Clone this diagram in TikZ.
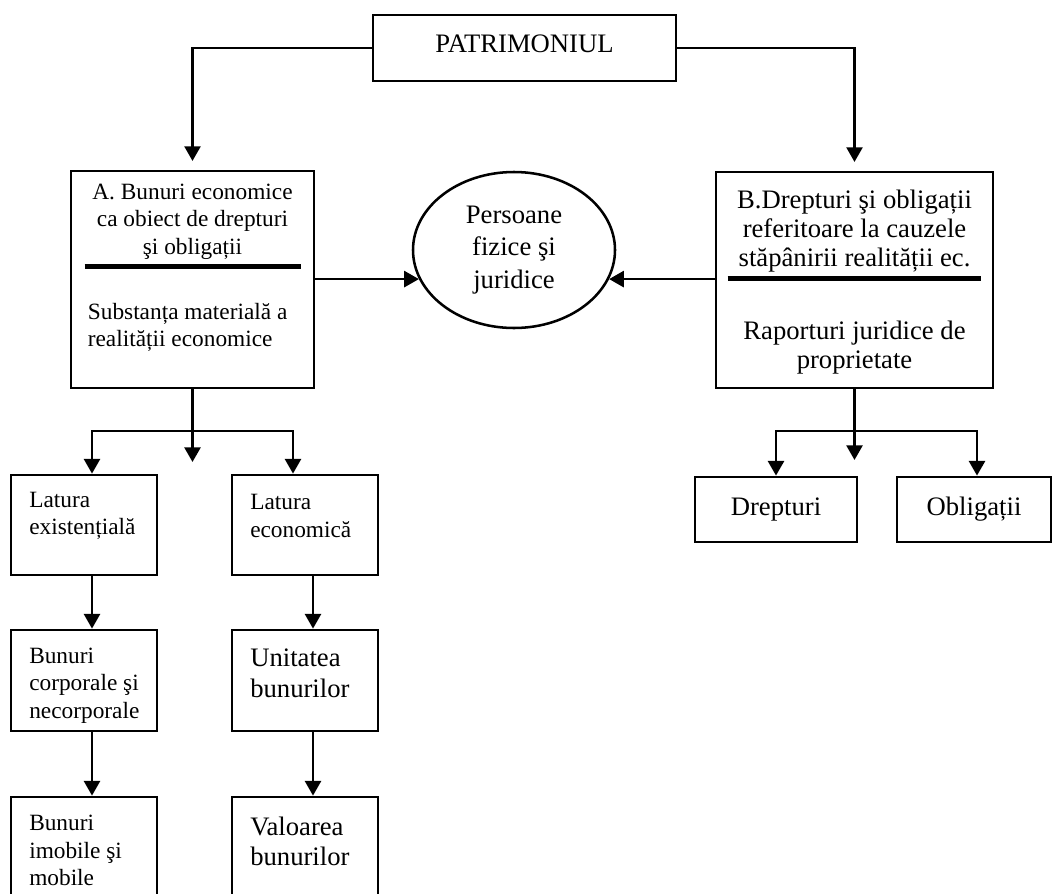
\documentclass[tikz,border=0pt]{standalone}
\usepackage{fontspec}
\setmainfont{Liberation Serif}
\usetikzlibrary{arrows.meta,shapes.geometric,calc}
\begin{document}
\begin{tikzpicture}[x=0.75pt,y=-0.75pt,
  box/.style={draw, line width=2.1pt, rectangle, inner sep=0pt},
  conn/.style={line width=1.9pt},
  arr/.style={conn, -{Triangle[width=12pt,length=11pt]}},
  big/.style={font=\fontsize{20}{23}\selectfont},
  small/.style={font=\fontsize{17.5}{20.6}\selectfont},
  txt/.style={inner sep=0pt},
  rulebar/.style={line width=3.2pt}]
\useasboundingbox (0,0) rectangle (1053,893);
\fill[white] (0,0) rectangle (1053,893);

% boxes
\node[box, big, minimum width=227.25pt, minimum height=49.5pt, text depth=7pt] (T) at (524.5,48) {PATRIMONIUL};
\node[box, minimum width=182.25pt, minimum height=162.75pt] (A) at (192.5,279.5) {};
\node[box, minimum width=207.75pt, minimum height=162pt] (B) at (854.5,280) {};
\node[draw, line width=1.9pt, ellipse, inner sep=0pt, minimum width=151.5pt, minimum height=117pt, align=center,
      font=\fontsize{20}{24.4}\selectfont] (P) at (514,250) {Persoane\\fizice şi\\juridice};
\node[box, minimum width=109.5pt, minimum height=75pt] (LE) at (84,525) {};
\node[box, minimum width=109.5pt, minimum height=75pt] (LC) at (305,525) {};
\node[box, minimum width=109.5pt, minimum height=75.75pt] (BC) at (84,680.5) {};
\node[box, minimum width=109.5pt, minimum height=75.75pt] (UB) at (305,680.5) {};
\node[box, minimum width=109.5pt, minimum height=77.25pt] (BI) at (84,848.5) {};
\node[box, minimum width=109.5pt, minimum height=77.25pt] (VB) at (305,848.5) {};
\node[box, big, minimum width=121.5pt, minimum height=48.75pt] (D) at (776,509.5) {Drepturi};
\node[box, big, minimum width=115.5pt, minimum height=48.75pt] (O) at (974,509.5) {Obligații};

% texts inside A
\node[txt, small, align=center] (At) at ($(A.north)+(0,52)$) {A. Bunuri economice\\ca obiect de drepturi\\şi obligații};
\draw[rulebar] ($(A.north west)+(15,97)$) -- ($(A.north east)+(-14,97)$);
\node[txt, small, align=left, anchor=west] (Ab) at ($(A.west)+(18,48)$) {Substanța materială a\\realității economice};

% texts inside B
\node[txt, align=center, font=\fontsize{20}{21.75}\selectfont] (Bt) at (854.5,231) {B.Drepturi şi obligații\\referitoare la cauzele\\stăpânirii realității ec.};
\draw[rulebar] ($(B.north west)+(13,108)$) -- ($(B.north east)+(-13,108)$);
\node[txt, align=center, font=\fontsize{20}{21.75}\selectfont] (Bb) at (854.5,347.5) {Raporturi juridice de\\proprietate};

% lower texts
\node[txt, small, align=left, anchor=west] (LEt) at (29,516) {Latura\\existențială};
\node[txt, small, align=left, anchor=west] (LCt) at (250,516) {Latura\\economică};
\node[txt, small, align=left, anchor=west] (BCt) at (29,685.5) {Bunuri\\corporale şi\\necorporale};
\node[txt, align=left, anchor=west, font=\fontsize{20}{23.25}\selectfont] (UBt) at (250,673.5) {Unitatea\\bunurilor};
\node[txt, small, align=left, anchor=west] (BIt) at (29,850.5) {Bunuri\\imobile şi\\mobile};
\node[txt, align=left, anchor=west, font=\fontsize{20}{22.5}\selectfont] (VBt) at (250,841) {Valoarea\\bunurilor};

% connectors from top
\draw[arr, shorten >=6.5pt] (T.west) -| (A.north);
\draw[arr, shorten >=6.5pt] (T.east) -| (B.north);
\draw[arr] (A.east |- P.197) -- (P.197);
\draw[arr] (B.west |- P.-17) -- (P.-17);

% branch under A
\coordinate (ja) at (192.5,431);
\coordinate (jaend) at (192.5,462);
\draw[conn] (A.south) -- (ja);
\draw[arr] (ja) -- (jaend);
\draw[arr] (ja) -| ([xshift=6pt]LE.north);
\draw[arr] (ja) -| ([xshift=-9pt]LC.north);
\draw[arr] ([xshift=6pt]LE.south) -- ([xshift=6pt]BC.north);
\draw[arr] ([xshift=6pt]BC.south) -- ([xshift=6pt]BI.north);
\draw[arr] ([xshift=6pt]LC.south) -- ([xshift=6pt]UB.north);
\draw[arr] ([xshift=6pt]UB.south) -- ([xshift=6pt]VB.north);

% branch under B
\coordinate (jb) at (854.5,431);
\coordinate (jbend) at (854.5,460);
\draw[conn] (B.south) -- (jb);
\draw[arr] (jb) -- (jbend);
\draw[arr] (jb) -| (D.north);
\draw[arr] (jb) -| ([xshift=2.25pt]O.north);
\end{tikzpicture}
\end{document}
